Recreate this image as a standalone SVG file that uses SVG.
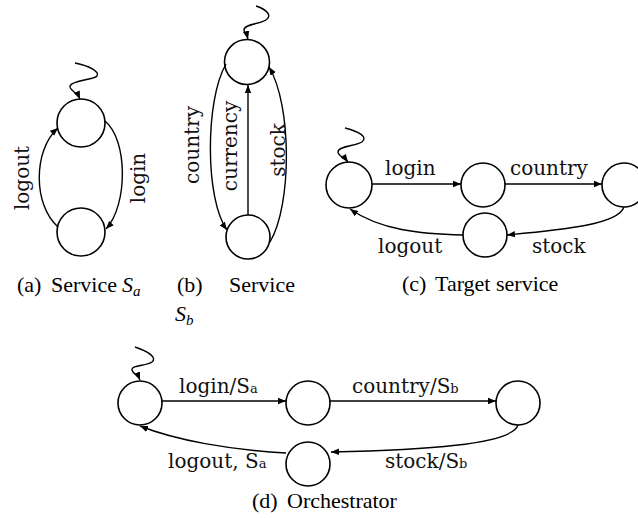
<svg xmlns="http://www.w3.org/2000/svg" width="638" height="518" viewBox="0 0 638 518">
<defs>
<marker id="ah" viewBox="0 0 10 10" refX="10" refY="5" markerWidth="8" markerHeight="8" markerUnits="userSpaceOnUse" orient="auto"><path d="M0,1 L10,5 L0,9 z" fill="#000"/></marker>
</defs>
<style>
.st{fill:#fff;stroke:#000;stroke-width:1.6}
.e{fill:none;stroke:#000;stroke-width:1.4;marker-end:url(#ah)}
.lb{font-family:"DejaVu Serif",serif;font-size:20px;fill:#111}
.cap{font-family:"Liberation Serif",serif;font-size:22px;fill:#000}
.it{font-style:italic}
.sub{font-size:15px}
.ssub{font-size:13px}
</style>
<rect width="638" height="518" fill="#fff"/>

<!-- Panel (a) -->
<g id="a-s0"><circle class="st" cx="81" cy="123" r="24"/></g>
<g id="a-s1"><circle class="st" cx="81" cy="232" r="24"/></g>
<g id="a-edges">
<path class="e" d="M75,63 C90,66 100,72 97,76 C94,80 72,80 70,86 C69,90 77,92 80,99"/>
<path class="e" d="M58,227 C33,205 33,150 58,128"/>
<path class="e" d="M105,121 C128,140 128,205 106,229"/>
</g>
<text class="lb" transform="translate(29,178) rotate(-90)" text-anchor="middle">logout</text>
<text class="lb" transform="translate(145,178) rotate(-90)" text-anchor="middle">login</text>

<!-- Panel (b) -->
<g id="b-s0"><circle class="st" cx="247" cy="62" r="22.5"/></g>
<g id="b-s1"><circle class="st" cx="248" cy="237" r="22"/></g>
<g id="b-edges">
<path class="e" d="M256,6 C268,10 272,16 266,20 C260,24 244,24 244,30 C244,33 247,35 248,39"/>
<path class="e" d="M248,215 L248,85"/>
<path class="e" d="M226,64 C205,100 205,200 227,230"/>
<path class="e" d="M270,242 C292,205 292,105 269,67"/>
</g>
<text class="lb" transform="translate(199,145) rotate(-90)" text-anchor="middle">country</text>
<text class="lb" transform="translate(237,146) rotate(-90)" text-anchor="middle">currency</text>
<text class="lb" transform="translate(285,150) rotate(-90)" text-anchor="middle">stock</text>

<!-- Panel (c) -->
<g id="c-s0"><circle class="st" cx="349" cy="185" r="23"/></g>
<g id="c-s1"><circle class="st" cx="483" cy="185" r="22"/></g>
<g id="c-s2"><circle class="st" cx="624" cy="185" r="22"/></g>
<g id="c-s3"><circle class="st" cx="485" cy="235" r="22"/></g>
<g id="c-edges">
<path class="e" d="M345,128 C360,132 368,137 362,142 C356,146 338,146 338,152 C338,156 345,158 348,162"/>
<path class="e" d="M372,184 L461,184"/>
<path class="e" d="M505,184 L602,184"/>
<path class="e" d="M624,207 C618,225 560,230 507,235"/>
<path class="e" d="M463,235 C420,234 380,230 350,209"/>
</g>
<text class="lb" x="385" y="175">login</text>
<text class="lb" x="510" y="175">country</text>
<text class="lb" x="378" y="253">logout</text>
<text class="lb" x="532" y="253">stock</text>

<!-- Panel (d) -->
<g id="d-s0"><circle class="st" cx="140" cy="403" r="22"/></g>
<g id="d-s1"><circle class="st" cx="308" cy="403" r="22"/></g>
<g id="d-s2"><circle class="st" cx="518" cy="403" r="22"/></g>
<g id="d-s3"><circle class="st" cx="308" cy="464" r="22"/></g>
<g id="d-edges">
<path class="e" d="M135,347 C150,352 157,358 152,362 C147,366 131,365 132,370 C133,374 138,375 140,380"/>
<path class="e" d="M162,401 L286,401"/>
<path class="e" d="M330,401 L496,401"/>
<path class="e" d="M518,425 C512,445 420,450 331,452"/>
<path class="e" d="M286,453 C230,450 175,440 140,426"/>
</g>
<text class="lb" x="179" y="393">login/S<tspan class="ssub">a</tspan></text>
<text class="lb" x="352" y="393">country/S<tspan class="ssub">b</tspan></text>
<text class="lb" x="168" y="468">logout, S<tspan class="ssub">a</tspan></text>
<text class="lb" x="385" y="468">stock/S<tspan class="ssub">b</tspan></text>

<!-- Captions -->
<text class="cap" y="292"><tspan x="17">(a)</tspan><tspan x="51">Service</tspan><tspan x="122" class="it">S</tspan><tspan class="it sub" dy="4">a</tspan></text>
<text class="cap" y="292"><tspan x="177">(b)</tspan><tspan x="229">Service</tspan></text>
<text class="cap" y="321"><tspan x="175" class="it">S</tspan><tspan class="it sub" dy="4">b</tspan></text>
<text class="cap" y="291"><tspan x="402">(c)</tspan><tspan x="435">Target service</tspan></text>
<text class="cap" y="508"><tspan x="252">(d)</tspan><tspan x="287">Orchestrator</tspan></text>
</svg>
